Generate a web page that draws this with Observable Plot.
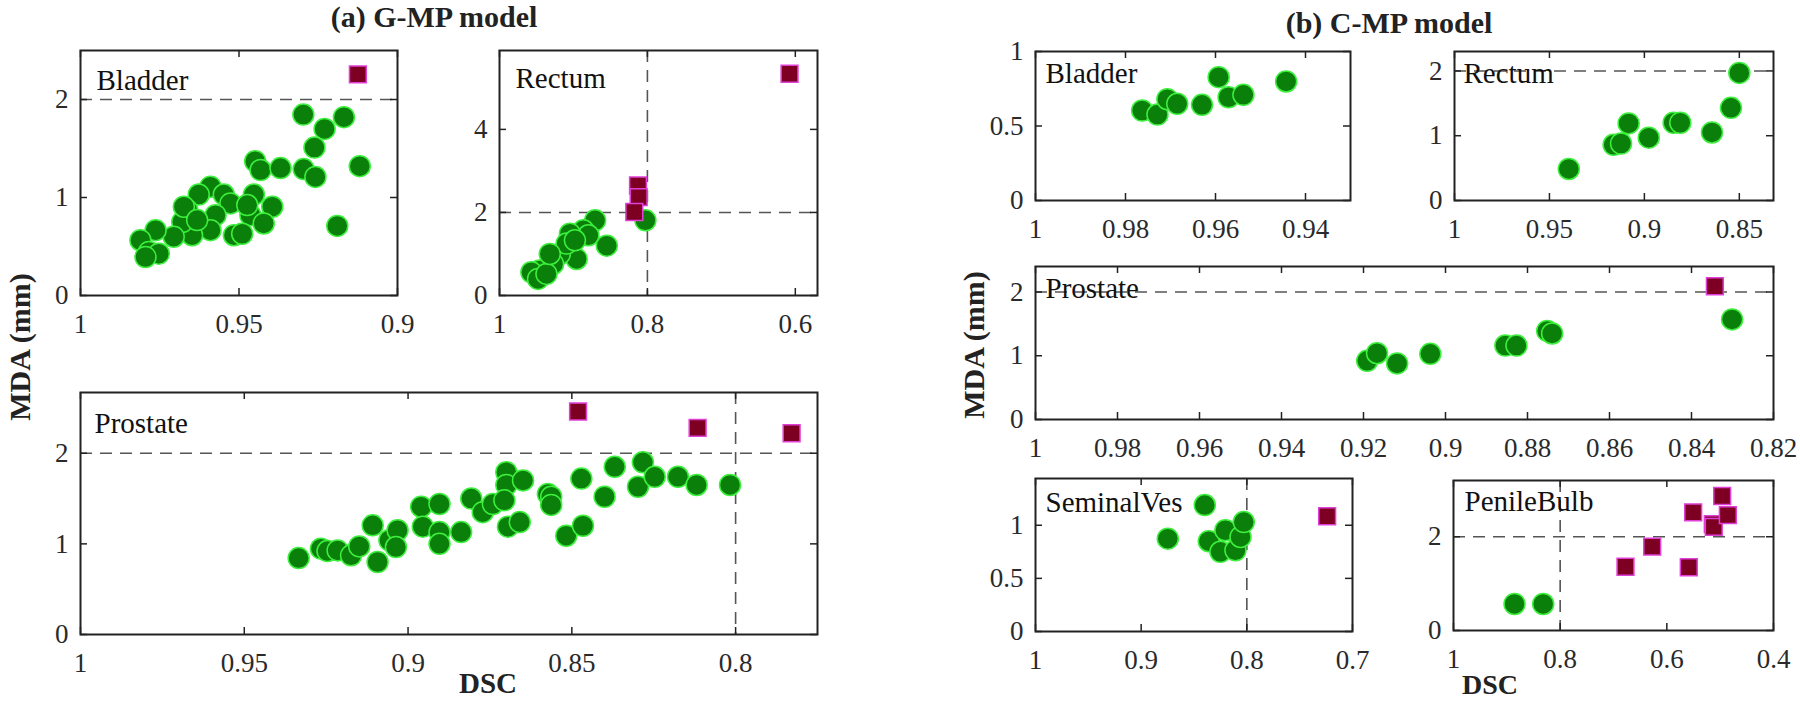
<!DOCTYPE html>
<html>
<head>
<meta charset="utf-8">
<script src="https://cdn.jsdelivr.net/npm/d3@7"></script>
<script src="https://cdn.jsdelivr.net/npm/@observablehq/plot@0.6"></script>
<style>
  html, body { margin: 0; padding: 0; background: #fff; }
  #root { position: relative; width: 1800px; height: 701px; overflow: hidden; background: #fff; }
  .lbl { position: absolute; font-family: 'Liberation Serif', 'Times New Roman', serif; color: #222; white-space: nowrap; line-height: 1; }
  .panel { position: absolute; }
  .panel svg, .panel svg text { font-family: 'Liberation Serif', 'Times New Roman', serif !important; }
</style>
</head>
<body>
<div id="root"></div>
<script>
// ---------- DATA ----------
// (a) G-MP model — Bladder
const gBladderDSC = [0.9297,0.9169,0.923,0.9262,0.9119,0.9449,0.9432,0.9369,0.9296,0.9259,0.919,0.959,0.9627,0.9548,0.9453,0.9395,0.9527,0.9663,0.9574,0.9464,0.9422,0.9516,0.949,0.959,0.9648,0.9679,0.9706,0.9763,0.9811,0.9784,0.9753,0.9795,0.9674,0.9632,0.9474];
const gBladderMDA = [1.846,1.82,1.70,1.51,1.32,1.37,1.28,1.30,1.29,1.21,0.71,1.11,1.03,1.03,1.03,0.906,0.94,0.87,0.82,0.82,0.735,0.615,0.63,0.667,0.615,0.75,0.60,0.667,0.564,0.444,0.427,0.393,0.906,0.77,0.923];
const gBladderOutDSC = [0.9125];
const gBladderOutMDA = [2.256];
// (a) G-MP model — Rectum
const gRectumDSC = [0.8707,0.8866,0.8798,0.9048,0.8549,0.8957,0.9184,0.9093,0.9275,0.9456,0.9569,0.9479,0.9365,0.932,0.898,0.8027];
const gRectumMDA = [1.81,1.57,1.45,1.49,1.20,0.88,1.0,1.25,0.76,0.60,0.56,0.40,0.52,1.0,1.33,1.81];
const gRectumOutDSC = [0.6078,0.8127,0.8118,0.8177];
const gRectumOutMDA = [5.34,2.65,2.37,2.01];
// (a) G-MP model — Prostate
const gProstateDSC = [0.9334,0.9266,0.9246,0.9215,0.9174,0.9149,0.9108,0.9093,0.9057,0.9032,0.9037,0.896,0.8955,0.8904,0.8904,0.8904,0.8838,0.8807,0.8772,0.8741,0.87,0.87,0.8695,0.8659,0.8649,0.8706,0.8573,0.8563,0.8563,0.8517,0.8466,0.8471,0.84,0.8369,0.8298,0.8283,0.8247,0.8176,0.8119,0.8017];
const gProstateMDA = [0.843,0.947,0.92,0.928,0.873,0.972,1.204,0.80,1.04,1.15,0.965,1.41,1.19,1.44,1.13,1.0,1.13,1.50,1.35,1.44,1.79,1.65,1.19,1.24,1.70,1.48,1.55,1.52,1.43,1.09,1.20,1.72,1.52,1.85,1.63,1.90,1.74,1.74,1.65,1.65];
const gProstateOutDSC = [0.8481,0.8116,0.7829];
const gProstateOutMDA = [2.46,2.28,2.22];
// (b) C-MP model — Bladder
const cBladderDSC = [0.9763,0.9729,0.9707,0.9685,0.963,0.9593,0.9571,0.9538,0.9443];
const cBladderMDA = [0.604,0.577,0.68,0.649,0.642,0.828,0.693,0.709,0.799];
// (b) C-MP model — Rectum
const cRectumDSC = [0.9398,0.9162,0.9123,0.9083,0.8977,0.8846,0.8811,0.8644,0.8544,0.85];
const cRectumMDA = [0.487,0.86,0.88,1.19,0.97,1.20,1.20,1.05,1.43,1.97];
// (b) C-MP model — Prostate
const cProstateDSC = [0.9191,0.9167,0.9118,0.9037,0.8854,0.8827,0.8752,0.874,0.8301];
const cProstateMDA = [0.92,1.04,0.88,1.03,1.16,1.16,1.39,1.35,1.57];
const cProstateOutDSC = [0.8343];
const cProstateOutMDA = [2.09];
// (b) C-MP model — SeminalVes
const cSemVesDSC = [0.8748,0.8398,0.836,0.825,0.8203,0.8108,0.806,0.8029];
const cSemVesMDA = [0.874,1.19,0.85,0.75,0.953,0.764,0.89,1.03];
const cSemVesOutDSC = [0.724];
const cSemVesOutMDA = [1.085];
// (b) C-MP model — PenileBulb
const cPenileDSC = [0.8856,0.8318];
const cPenileMDA = [0.567,0.567];
const cPenileOutDSC = [0.6775,0.6274,0.5588,0.5506,0.5138,0.512,0.4962,0.4856];
const cPenileOutMDA = [1.36,1.79,1.35,2.52,2.27,2.21,2.87,2.46];

// tick values
const ticksG_BladderX = [1, 0.95, 0.9];
const ticksG_RectumX = [1, 0.8, 0.6];
const ticksG_ProstateX = [1, 0.95, 0.9, 0.85, 0.8];
const ticksC_BladderX = [1, 0.98, 0.96, 0.94];
const ticksC_RectumX = [1, 0.95, 0.9, 0.85];
const ticksC_ProstateX = [1, 0.98, 0.96, 0.94, 0.92, 0.9, 0.88, 0.86, 0.84, 0.82];
const ticksC_SemVesX = [1, 0.9, 0.8, 0.7];
const ticksC_PenileX = [1, 0.8, 0.6, 0.4];
const ticksY012 = [0, 1, 2];
const ticksY024 = [0, 2, 4];
const ticksY0051 = [0, 0.5, 1];
const ticksY02 = [0, 2];

// ---------- DRAWING ----------
const FONT = "'Liberation Serif', 'Times New Roman', serif";
const root = document.getElementById("root");
const fmt = d => String(d);

function pairs(xs, ys) { return xs.map((x, i) => ({dsc: x, mda: ys[i]})); }

function panel(cfg) {
  const ml = 60, mr = 14, mt = 12, mb = 50;
  const fw = cfg.R - cfg.L, fh = cfg.B - cfg.T;
  const tick = 7;
  const marks = [];
  const dash = {stroke: "#555", strokeWidth: 1.6, strokeDasharray: "12,8"};
  if (cfg.h != null) marks.push(Plot.ruleY([cfg.h], dash));
  if (cfg.v != null) marks.push(Plot.ruleX([cfg.v], dash));
  marks.push(
    Plot.axisX(cfg.xt, {anchor: "bottom", tickSize: 0, tickPadding: 18, tickFormat: fmt, fontSize: 27, fontFamily: FONT, fill: "#2a2a2a", label: null}),
    Plot.axisY(cfg.yt, {anchor: "left", tickSize: 0, tickPadding: 12, tickFormat: fmt, fontSize: 27, fontFamily: FONT, fill: "#2a2a2a", label: null}),
    Plot.tickX(cfg.xt, {x: d => d, insetTop: fh - tick, stroke: "#222", strokeWidth: 1.5}),
    Plot.tickX(cfg.xt, {x: d => d, insetBottom: fh - tick, stroke: "#222", strokeWidth: 1.5}),
    Plot.tickY(cfg.yt, {y: d => d, insetRight: fw - tick, stroke: "#222", strokeWidth: 1.5}),
    Plot.tickY(cfg.yt, {y: d => d, insetLeft: fw - tick, stroke: "#222", strokeWidth: 1.5}),
    Plot.text([cfg.label], {frameAnchor: "top-left", dx: cfg.ldx, dy: cfg.ldy, textAnchor: "start", lineAnchor: "bottom", fontSize: 29, fontFamily: FONT, fill: "#111"}),
    Plot.dot(cfg.circles, {x: "dsc", y: "mda", r: 10.5, fill: "#0a7f0a", stroke: "#3df03d", strokeWidth: 1.5}),
    Plot.dot(cfg.squares || [], {x: "dsc", y: "mda", symbol: "square", r: 9.5, fill: "#7d0022", stroke: "#e040d8", strokeWidth: 1.5}),
    Plot.frame({stroke: "#222", strokeWidth: 2})
  );
  const svg = Plot.plot({
    width: fw + ml + mr,
    height: fh + mt + mb,
    marginLeft: ml, marginRight: mr, marginTop: mt, marginBottom: mb,
    x: {domain: cfg.xd},
    y: {domain: cfg.yd},
    style: {fontFamily: FONT, background: "transparent", overflow: "visible", color: "#222"},
    marks
  });
  svg.setAttribute("font-family", FONT);
  svg.querySelectorAll("g, text, tspan").forEach(t => {
    if (t.hasAttribute("font-family")) t.setAttribute("font-family", FONT);
    if (t.tagName === "text" || t.tagName === "tspan") t.style.setProperty("font-family", "Liberation Serif, serif", "important");
  });
  const wrap = document.createElement("div");
  wrap.className = "panel";
  wrap.style.left = (cfg.L - ml) + "px";
  wrap.style.top = (cfg.T - mt) + "px";
  wrap.appendChild(svg);
  root.appendChild(wrap);
}

panel({L: 80, T: 50, R: 397, B: 295, xd: [1, 0.9], yd: [0, 2.5], xt: ticksG_BladderX, yt: ticksY012, h: 2,
  label: "Bladder", ldx: 16, ldy: 39, circles: pairs(gBladderDSC, gBladderMDA), squares: pairs(gBladderOutDSC, gBladderOutMDA)});
panel({L: 499, T: 50, R: 817, B: 295, xd: [1, 0.57], yd: [0, 5.9], xt: ticksG_RectumX, yt: ticksY024, h: 2, v: 0.8,
  label: "Rectum", ldx: 16, ldy: 37, circles: pairs(gRectumDSC, gRectumMDA), squares: pairs(gRectumOutDSC, gRectumOutMDA)});
panel({L: 80, T: 392, R: 817, B: 634, xd: [1, 0.775], yd: [0, 2.67], xt: ticksG_ProstateX, yt: ticksY012, h: 2, v: 0.8,
  label: "Prostate", ldx: 14, ldy: 40, circles: pairs(gProstateDSC, gProstateMDA), squares: pairs(gProstateOutDSC, gProstateOutMDA)});
panel({L: 1035, T: 51, R: 1350, B: 200, xd: [1, 0.93], yd: [0, 1], xt: ticksC_BladderX, yt: ticksY0051,
  label: "Bladder", ldx: 10, ldy: 31, circles: pairs(cBladderDSC, cBladderMDA)});
panel({L: 1454, T: 51, R: 1773, B: 200, xd: [1, 0.832], yd: [0, 2.3], xt: ticksC_RectumX, yt: ticksY012, h: 2,
  label: "Rectum", ldx: 9, ldy: 31, circles: pairs(cRectumDSC, cRectumMDA)});
panel({L: 1035, T: 266, R: 1773, B: 419, xd: [1, 0.82], yd: [0, 2.4], xt: ticksC_ProstateX, yt: ticksY012, h: 2,
  label: "Prostate", ldx: 10, ldy: 31, circles: pairs(cProstateDSC, cProstateMDA), squares: pairs(cProstateOutDSC, cProstateOutMDA)});
panel({L: 1035, T: 478, R: 1352, B: 631, xd: [1, 0.7], yd: [0, 1.44], xt: ticksC_SemVesX, yt: ticksY0051, v: 0.8,
  label: "SeminalVes", ldx: 10, ldy: 33, circles: pairs(cSemVesDSC, cSemVesMDA), squares: pairs(cSemVesOutDSC, cSemVesOutMDA)});
panel({L: 1453, T: 480, R: 1773, B: 630, xd: [1, 0.4], yd: [0, 3.2], xt: ticksC_PenileX, yt: ticksY02, h: 2, v: 0.8,
  label: "PenileBulb", ldx: 11, ldy: 30, circles: pairs(cPenileDSC, cPenileMDA), squares: pairs(cPenileOutDSC, cPenileOutMDA)});

// ---------- titles & axis titles ----------
function label(text, cx, cy, size, rotate) {
  const d = document.createElement("div");
  d.className = "lbl";
  d.textContent = text;
  d.style.fontSize = size + "px";
  d.style.fontWeight = "bold";
  d.style.left = cx + "px";
  d.style.top = cy + "px";
  d.style.transform = "translate(-50%, -50%)" + (rotate ? " rotate(-90deg)" : "");
  root.appendChild(d);
}
label("(a) G-MP model", 434, 17, 30);
label("(b) C-MP model", 1389, 23, 30);
label("MDA (mm)", 20, 347, 30, true);
label("MDA (mm)", 974, 345, 30, true);
label("DSC", 488, 683, 29);
label("DSC", 1490, 685, 28);
</script>
</body>
</html>
